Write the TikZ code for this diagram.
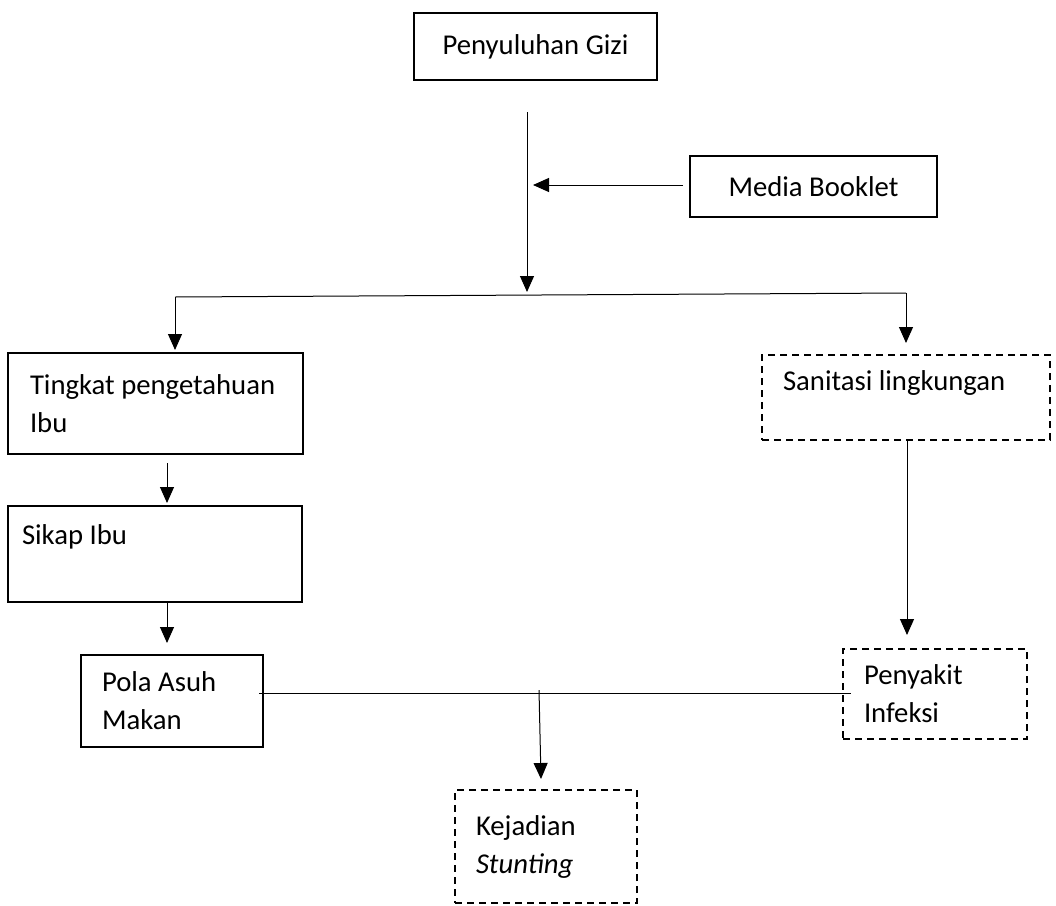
\documentclass[tikz,border=0pt]{standalone}
\usepackage{fontspec}
\setmainfont{Carlito}
\usetikzlibrary{arrows.meta}
\begin{document}
\begin{tikzpicture}[x=1pt,y=-1pt,
  every node/.style={font=\fontsize{28.7}{38}\selectfont},
  boxbase/.style={rectangle, draw=black, line width=1.6pt, inner ysep=0pt},
  solidbox/.style n args={3}{boxbase, minimum width=#1, minimum height=#2, inner xsep=#3, text width=#1-2*#3, align=flush left},
  dashbox/.style n args={3}{solidbox={#1}{#2}{#3}, dash pattern=on 7pt off 5pt},
  centerbox/.style n args={2}{boxbase, minimum width=#1, minimum height=#2, align=center},
  conn/.style={line width=1pt, draw=black},
  arr/.style={conn, -{Triangle[length=16pt,width=14pt]}}]
\useasboundingbox (0,0) rectangle (1056,905);

\node[centerbox={243}{67}] (pg) at (535.5,46.5) {Penyuluhan Gizi};
\node[centerbox={247}{61}] (mb) at (813.5,186.5) {Media Booklet};
\node[solidbox={295}{101}{22}] (tp) at (155.5,403.5) {Tingkat pengetahuan\\Ibu};
\node[solidbox={294}{96}{14}] (si) at (155,554) {Sikap Ibu\\\mbox{}};
\node[solidbox={182}{92}{21}] (pa) at (172,701) {Pola Asuh\\Makan};
\node[dashbox={288}{85}{21}] (sl) at (906,397.5) {Sanitasi lingkungan\\[-4pt]\mbox{}};
\node[dashbox={184}{90}{21}] (pi) at (935,694) {Penyakit\\Infeksi};
\node[dashbox={182}{113}{21}] (ks) at (546,846.5) {Kejadian\\\textit{Stunting}};

\coordinate (top) at (527,112);
\coordinate (mid) at (527,292);
\coordinate (mbtip) at (533,185);
\coordinate (mbstart) at (683,185);
\coordinate (bl) at (175,297);
\coordinate (br) at (906,293);
\coordinate (tpin) at (175,350);
\coordinate (slin) at (906,343);
\coordinate (tpout) at (167,463);
\coordinate (siin) at (167,503);
\coordinate (siout) at (167,602);
\coordinate (pain) at (167,643);
\coordinate (slout) at (907,440);
\coordinate (piin) at (907,635);
\coordinate (pal) at (259,693);
\coordinate (pir) at (851,693);
\coordinate (ksfrom) at (539,690);
\coordinate (ksin) at (541,779);

\draw[arr] (top) -- (mid);
\draw[arr] (mbstart) -- (mbtip);
\draw[conn] (bl) -- (br);
\draw[arr] (bl) -- (tpin);
\draw[arr] (br) -- (slin);
\draw[arr] (tpout) -- (siin);
\draw[arr] (siout) -- (pain);
\draw[arr] (slout) -- (piin);
\draw[conn] (pal) -- (pir);
\draw[arr] (ksfrom) -- (ksin);
\end{tikzpicture}
\end{document}
